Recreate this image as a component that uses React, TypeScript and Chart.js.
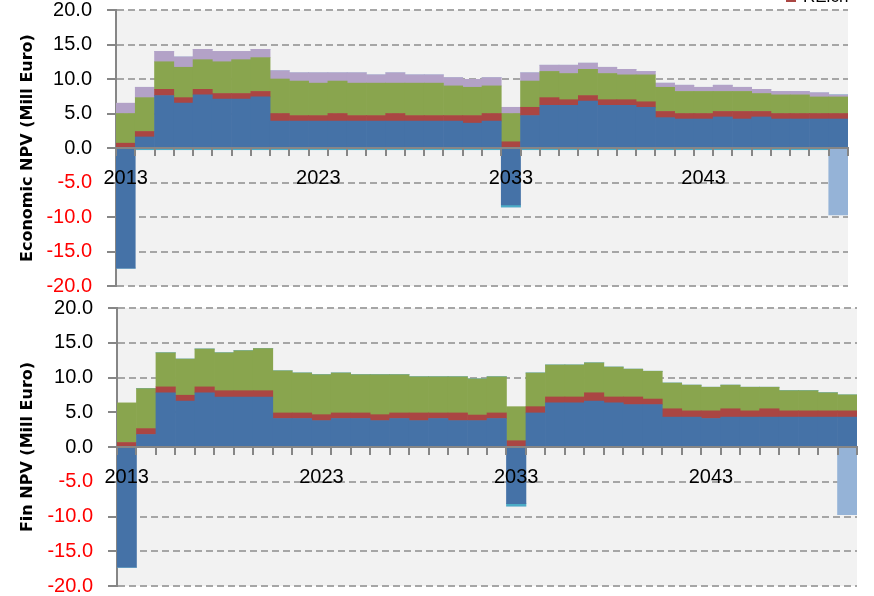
import React, { useEffect, useRef } from 'react';
import { Chart, registerables } from 'chart.js';

Chart.register(...registerables);

// ---------- data ----------
const years = [
  '2013', '2014', '2015', '2016', '2017', '2018', '2019', '2020', '2021', '2022',
  '2023', '2024', '2025', '2026', '2027', '2028', '2029', '2030', '2031', '2032',
  '2033', '2034', '2035', '2036', '2037', '2038', '2039', '2040', '2041', '2042',
  '2043', '2044', '2045', '2046', '2047', '2048', '2049', '2050',
];
const shownYearLabels = ['2013', '2023', '2033', '2043'];
const yTickValues = [-20, -15, -10, -5, 0, 5, 10, 15, 20];

// Economic NPV (stack increments, Mill Euro)
const ecoBlue = [
  -17.4, 1.6, 7.6, 6.5, 7.7, 7.1, 7.1, 7.4, 3.9, 3.9,
  3.9, 3.9, 3.9, 3.9, 3.9, 3.9, 3.9, 3.9, 3.6, 3.9,
  -8.25, 4.7, 6.2, 6.2, 6.8, 6.2, 6.2, 5.9, 4.4, 4.2,
  4.2, 4.5, 4.2, 4.5, 4.2, 4.2, 4.2, 4.2,
];
const ecoRed = [
  0.7, 0.8, 0.9, 0.8, 0.8, 0.8, 0.8, 0.8, 1.1, 0.8,
  0.8, 1.1, 0.8, 0.8, 1.1, 0.8, 0.8, 0.8, 1.1, 1.1,
  0.9, 1.2, 1.1, 0.8, 0.8, 0.8, 0.8, 0.8, 0.9, 0.8,
  0.8, 0.8, 1.1, 0.8, 0.8, 0.8, 0.8, 0.8,
];
const ecoGreen = [
  4.3, 4.9, 4.0, 4.4, 4.3, 4.6, 4.9, 4.9, 5.0, 5.0,
  4.7, 4.7, 4.7, 4.7, 4.4, 4.7, 4.7, 4.3, 4.1, 4.0,
  4.1, 3.8, 3.8, 3.8, 3.8, 3.8, 3.6, 3.9, 3.5, 3.2,
  3.2, 2.9, 2.9, 2.6, 2.7, 2.7, 2.4, 2.4,
];
const ecoPurple = [
  1.5, 1.5, 1.5, 1.5, 1.5, 1.5, 1.2, 1.2, 1.2, 1.2,
  1.5, 1.2, 1.5, 1.2, 1.5, 1.2, 1.2, 1.2, 1.15, 1.2,
  0.9, 1.2, 0.9, 1.2, 0.9, 0.9, 0.8, 0.5, 0.6, 0.9,
  0.6, 0.9, 0.6, 0.6, 0.5, 0.5, 0.6, 0.3,
];
const ecoTeal = [
  0, -0.25, -0.25, -0.25, -0.25, -0.25, -0.25, -0.25, -0.25, -0.25,
  -0.25, -0.25, -0.25, -0.25, -0.25, -0.25, -0.25, -0.25, -0.25, -0.25,
  -0.3, -0.25, -0.25, -0.25, -0.25, -0.25, -0.25, -0.25, -0.25, -0.25,
  -0.25, -0.25, -0.25, -0.25, -0.25, -0.25, -0.25, 0,
];
const ecoLightBlue = [
  0, 0, 0, 0, 0, 0, 0, 0, 0, 0,
  0, 0, 0, 0, 0, 0, 0, 0, 0, 0,
  0, 0, 0, 0, 0, 0, 0, 0, 0, 0,
  0, 0, 0, 0, 0, 0, 0, -9.7,
];

// Financial NPV (stack increments, Mill Euro)
const finBlue = [
  -17.3, 1.8, 7.8, 6.6, 7.8, 7.2, 7.2, 7.2, 4.1, 4.1,
  3.8, 4.1, 4.1, 3.8, 4.1, 3.8, 4.1, 3.8, 3.8, 4.1,
  -8.15, 4.9, 6.35, 6.35, 6.6, 6.35, 6.1, 6.1, 4.3, 4.3,
  4.1, 4.3, 4.3, 4.3, 4.3, 4.3, 4.3, 4.3,
];
const finRed = [
  0.65, 0.85, 0.85, 0.85, 0.85, 0.9, 0.9, 0.9, 0.8, 0.8,
  0.85, 0.8, 0.8, 0.85, 0.8, 1.1, 0.8, 1.1, 0.8, 0.8,
  0.9, 0.9, 0.85, 0.85, 1.2, 0.85, 1.1, 0.8, 1.2, 0.9,
  1.1, 1.2, 0.9, 1.2, 0.9, 0.9, 0.9, 0.9,
];
const finGreen = [
  5.7, 5.75, 4.9, 5.2, 5.45, 5.45, 5.75, 6.05, 6.05, 5.75,
  5.75, 5.75, 5.5, 5.75, 5.5, 5.2, 5.2, 5.2, 5.2, 5.2,
  4.9, 4.85, 4.6, 4.6, 4.3, 4.3, 4.0, 4.0, 3.7, 3.7,
  3.4, 3.4, 3.4, 3.1, 2.9, 2.9, 2.6, 2.3,
];
const finTeal = [
  0, 0, 0, 0, 0, 0, 0, 0, 0, 0,
  0, 0, 0, 0, 0, 0, 0, 0, 0, 0,
  -0.35, 0, 0, 0, 0, 0, 0, 0, 0, 0,
  0, 0, 0, 0, 0, 0, 0, 0,
];
const finLightBlue = [
  0, 0, 0, 0, 0, 0, 0, 0, 0, 0,
  0, 0, 0, 0, 0, 0, 0, 0, 0, 0,
  0, 0, 0, 0, 0, 0, 0, 0, 0, 0,
  0, 0, 0, 0, 0, 0, 0, -9.75,
];

// ---------- styles ----------
const BLUE = '#4572A7';
const RED = '#AA4643';
const GREEN = '#89A54E';
const PURPLE = '#B3A2C7';
const TEAL = '#4BACC6';
const LIGHTBLUE = '#95B3D7';
const AXIS_GREY = '#868686';
const GRID_GREY = '#A6A6A6';
const TICK_FONT = { family: '"Liberation Sans", Arial, sans-serif', size: 20 };

const bgPlugin = {
  id: 'plotBg',
  beforeDraw(chart: any) {
    const { ctx, chartArea: a } = chart;
    ctx.save();
    ctx.fillStyle = '#F2F2F2';
    ctx.fillRect(a.left, a.top, a.right - a.left, a.bottom - a.top);
    ctx.restore();
  },
};

// fragment of the legend that is cut off at the top of the picture
const legendFragment = {
  id: 'legendFragment',
  afterDraw(chart: any) {
    const { ctx } = chart;
    ctx.save();
    ctx.fillStyle = RED;
    ctx.fillRect(786, 22, 10, 10);
    ctx.fillStyle = '#000';
    ctx.font = '17px "Liberation Sans", Arial, sans-serif';
    ctx.textBaseline = 'alphabetic';
    ctx.fillText('RElch', 803, 32);
    ctx.restore();
  },
};

function ds(label: string, data: number[], color: string) {
  return {
    label,
    data,
    backgroundColor: color,
    borderWidth: 0,
    barPercentage: 1,
    categoryPercentage: 1,
  };
}

function buildOptions(title: string, axisWidth: number, padding: any) {
  return {
    responsive: false,
    animation: false,
    layout: { padding },
    plugins: { legend: { display: false }, tooltip: { enabled: false } },
    scales: {
      x: {
        type: 'category',
        stacked: true,
        position: { y: 0 },
        ticks: {
          z: 2,
          autoSkip: false,
          maxRotation: 0,
          minRotation: 0,
          padding: 11,
          color: '#000000',
          font: TICK_FONT,
          callback: (_v: any, i: number) => (shownYearLabels.includes(years[i]) ? years[i] : ''),
        },
        grid: {
          z: 1,
          display: true,
          drawOnChartArea: false,
          drawTicks: true,
          tickLength: 7,
          color: AXIS_GREY,
          lineWidth: 2,
          offset: true,
        },
        border: { z: 1, display: true, color: AXIS_GREY, width: 2 },
      },
      y: {
        stacked: true,
        min: yTickValues[0],
        max: yTickValues[yTickValues.length - 1],
        afterBuildTicks: (s: any) => {
          s.ticks = yTickValues.map((v) => ({ value: v }));
        },
        afterFit: (s: any) => {
          s.width = axisWidth;
        },
        ticks: {
          padding: 15,
          font: TICK_FONT,
          color: (c: any) => (c.tick && c.tick.value < 0 ? '#FF0000' : '#000000'),
          callback: (v: any) => Number(v).toFixed(1),
        },
        grid: {
          color: GRID_GREY,
          lineWidth: 2,
          tickLength: 9,
          tickColor: AXIS_GREY,
          tickWidth: 2,
          tickBorderDash: [],
        },
        border: { display: true, color: AXIS_GREY, width: 2, dash: [7, 4] },
        title: {
          display: true,
          text: title,
          color: '#000000',
          font: { family: '"DejaVu Sans", Verdana, sans-serif', weight: 'bold', size: 16 },
          padding: { top: 18, bottom: 0 },
        },
      },
    },
  };
}

export default function App() {
  const topRef = useRef<HTMLCanvasElement>(null);
  const botRef = useRef<HTMLCanvasElement>(null);

  useEffect(() => {
    document.body.style.margin = '0';
    document.body.style.background = '#FFFFFF';

    const top = new Chart(topRef.current as HTMLCanvasElement, {
      type: 'bar',
      data: {
        labels: years,
        datasets: [
          ds('Blue', ecoBlue, BLUE),
          ds('RElch', ecoRed, RED),
          ds('Green', ecoGreen, GREEN),
          ds('Purple', ecoPurple, PURPLE),
          ds('Teal', ecoTeal, TEAL),
          ds('Light blue', ecoLightBlue, LIGHTBLUE),
        ],
      },
      options: buildOptions('Economic NPV (Mill Euro)', 116, { left: 0, right: 26, top: 40, bottom: 30 }) as any,
      plugins: [bgPlugin, legendFragment],
    });

    const bottom = new Chart(botRef.current as HTMLCanvasElement, {
      type: 'bar',
      data: {
        labels: years,
        datasets: [
          ds('Blue', finBlue, BLUE),
          ds('RElch', finRed, RED),
          ds('Green', finGreen, GREEN),
          ds('Teal', finTeal, TEAL),
          ds('Light blue', finLightBlue, LIGHTBLUE),
        ],
      },
      options: buildOptions('Fin NPV (Mill Euro)', 117, { left: 0, right: 17, top: 30, bottom: 30 }) as any,
      plugins: [bgPlugin],
    });

    return () => {
      top.destroy();
      bottom.destroy();
    };
  }, []);

  return (
    <div style={{ position: 'relative', width: 874, height: 596, overflow: 'hidden', background: '#FFFFFF' }}>
      <canvas ref={topRef} width={874} height={346} style={{ position: 'absolute', left: 0, top: -30, width: 874, height: 346 }} />
      <canvas ref={botRef} width={874} height={338} style={{ position: 'absolute', left: 0, top: 278, width: 874, height: 338 }} />
    </div>
  );
}
